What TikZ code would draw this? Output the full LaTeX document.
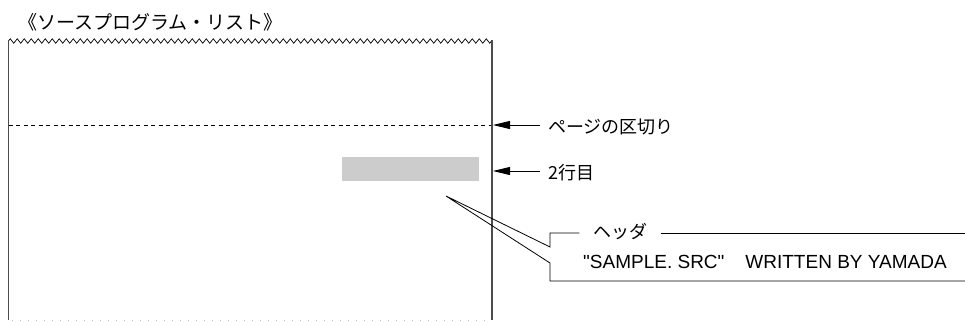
\documentclass[tikz,border=0pt]{standalone}
\usepackage{fontspec}
\setmainfont{Liberation Sans}
\newfontfamily\jpfont{Noto Sans CJK JP}
\usetikzlibrary{arrows.meta, positioning, decorations.pathmorphing}

\begin{document}
\begin{tikzpicture}[
  x=1pt, y=-1pt,
  jplabel/.style={font=\jpfont\fontsize{18}{21}\selectfont, inner sep=0pt, anchor=west},
  pageedge/.style={draw=black!70, line width=1.4pt},
  pointer/.style={-{Triangle[length=17pt, width=8pt]}, line width=0.8pt},
  leader/.style={line width=0.8pt}
]
  \useasboundingbox (0,0) rectangle (965,322);

  % title of the listing
  \node[jplabel, font=\jpfont\fontsize{19}{22}\selectfont] (title) at (18,22) {《ソースプログラム・リスト》};

  % paper sheet
  \draw[line width=0.7pt, decorate,
        decoration={zigzag, segment length=7pt, amplitude=2.2pt}]
    (8.5,41) -- (492,41);
  \draw[pageedge] (8.5,40) -- (8.5,320);
  \draw[pageedge] (492,40) -- (492,320);
  \draw[black!25, line width=1pt, dash pattern=on 1pt off 7pt] (12,320) -- (490,320);

  % page break
  \draw[dash pattern=on 4pt off 3.5pt, line width=0.8pt] (8.5,125) -- (491,125);
  \coordinate (breakedge) at (493,125);
  \node[jplabel, inner xsep=8pt] (pagebreak) at (540,126.5) {ページの区切り};
  \draw[pointer] (pagebreak.west |- breakedge) -- (breakedge);

  % second line
  \node[fill=black!20, minimum width=137pt, minimum height=24pt, inner sep=0pt,
        anchor=north west] (secondline) at (342,157) {};
  \coordinate (lineedge) at (493,171);
  \node[jplabel, inner xsep=8pt] (linetwo) at (540,172.5) {2行目};
  \draw[pointer] (linetwo.west |- lineedge) -- (lineedge);

  % header callout
  \coordinate (tip) at (446,196);
  \node[jplabel, anchor=center, minimum width=81pt] (hdrtitle) at (620,231.5) {ヘッダ};
  \node[anchor=base west, inner sep=0pt, font=\fontsize{19}{22}\selectfont] (hdrtext)
    at (583,268) {\textquotedbl SAMPLE.\ SRC\textquotedbl\hspace{21pt}WRITTEN BY YAMADA};
  \draw[leader] (hdrtitle.west |- 0,233) -- (550,233) -- (550,247) -- (tip)
    -- (550,263) -- (550,281) -- (966,281);
  \draw[leader] (hdrtitle.east |- 0,233) -- (966,233);
\end{tikzpicture}
\end{document}
